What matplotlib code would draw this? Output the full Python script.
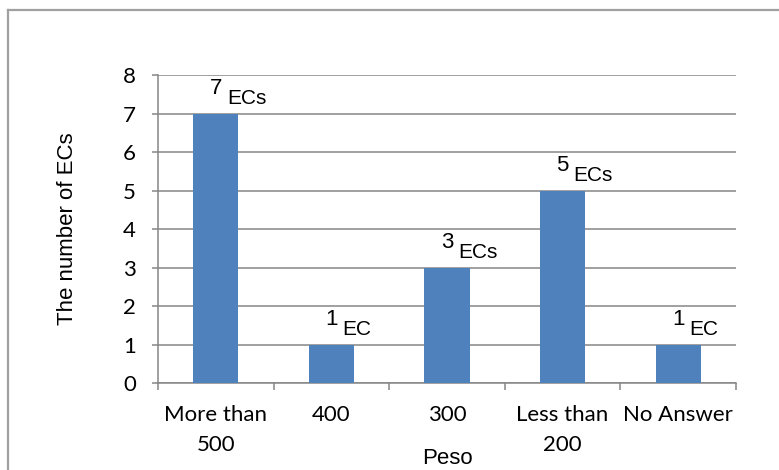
import matplotlib

matplotlib.use("Agg")
import matplotlib.pyplot as plt
from matplotlib.lines import Line2D
import numpy as np

categories = ["More than\n500", "400", "300", "Less than\n200", "No Answer"]
counts = [7, 1, 3, 5, 1]
units = ["ECs", "EC", "ECs", "ECs", "EC"]
y_ticks = [0, 1, 2, 3, 4, 5, 6, 7, 8]

BAR_COLOR = "#4F81BD"
GRID_COLOR = "#868686"
TICK_FONT = "Lato"
LABEL_FONT = "Liberation Sans"

fig = plt.figure(figsize=(7.79, 4.70), dpi=100)
ax = fig.add_axes([0.2028, 0.1851, 0.7420, 0.6553])

x = np.arange(len(categories))
ax.bar(x, counts, width=0.39, color=BAR_COLOR, zorder=3)

ax.set_xlim(-0.5, len(categories) - 0.5)
ax.set_ylim(0, 8)
ax.set_yticks(y_ticks)
ax.yaxis.grid(True, color=GRID_COLOR, linewidth=1.1, zorder=0)

# category labels sit between boundary ticks
ax.set_xticks(x)
ax.set_xticklabels(categories, fontfamily=TICK_FONT, fontsize=16, linespacing=1.6)
ax.set_xticks(np.arange(len(categories) + 1) - 0.5, minor=True)
ax.tick_params(axis="x", which="major", length=0, pad=16)
ax.tick_params(axis="x", which="minor", length=5, color=GRID_COLOR, width=1.1)
ax.tick_params(axis="y", length=4, color=GRID_COLOR, width=1.1, pad=12)
for lbl in ax.get_yticklabels():
    lbl.set_fontfamily(TICK_FONT)
    lbl.set_fontsize(16)

for side in ("top", "right"):
    ax.spines[side].set_visible(False)
for side in ("left", "bottom"):
    ax.spines[side].set_color(GRID_COLOR)
    ax.spines[side].set_linewidth(1.1)

ax.set_ylabel("The number of ECs", fontfamily=LABEL_FONT, fontsize=16, labelpad=32)
ax.set_xlabel("Peso", fontfamily=LABEL_FONT, fontsize=16, labelpad=-5)

# value labels: count with the unit dropped a little below it
for xi, n, unit in zip(x, counts, units):
    ax.annotate(str(n), (xi, n), xytext=(0, 14), textcoords="offset points",
                ha="center", va="baseline", fontfamily=LABEL_FONT, fontsize=16)
    ax.annotate(unit, (xi, n), xytext=(8, 7), textcoords="offset points",
                ha="left", va="baseline", fontfamily=LABEL_FONT, fontsize=15)

# outer chart frame, running off the right and bottom edges
frame_x = 7.5 / 779
frame_y = 1 - 9.5 / 470
frame_kw = dict(transform=fig.transFigure, color="#A0A0A0", linewidth=1.6)
fig.add_artist(Line2D([frame_x, frame_x], [0.0, frame_y], **frame_kw))
fig.add_artist(Line2D([frame_x, 1.0], [frame_y, frame_y], **frame_kw))

fig.savefig("out.png", dpi=100)
